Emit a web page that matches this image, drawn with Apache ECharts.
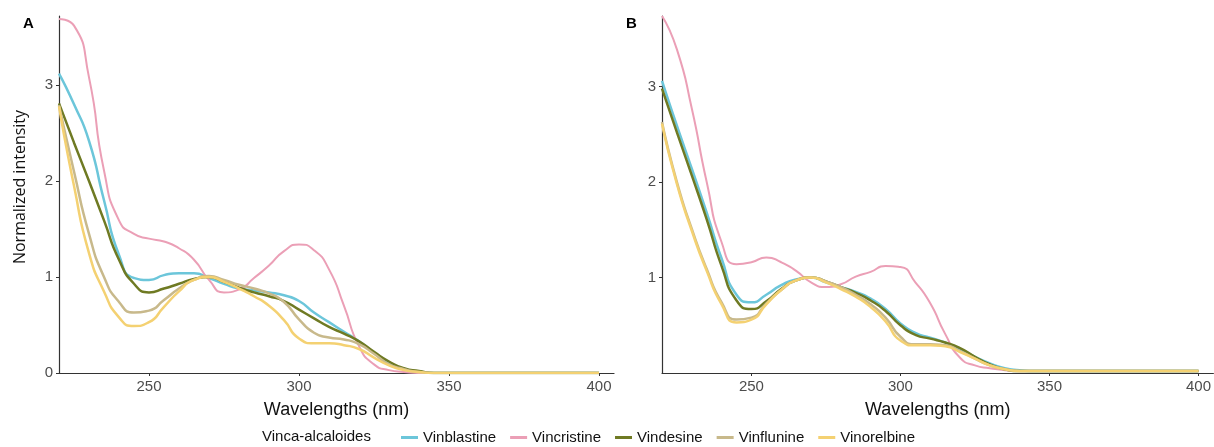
<!DOCTYPE html>
<html>
<head>
<meta charset="utf-8">
<script src="https://cdn.jsdelivr.net/npm/echarts@6/dist/echarts.min.js"></script>
<style>
  html, body { margin: 0; padding: 0; background: #fff; }
  #chart { width: 1214px; height: 447px; }
</style>
</head>
<body>
<div id="chart"></div>
<script>
// wavelength grid (nm) shared by every curve
const wavelengths = [220, 225, 230, 235, 240, 245, 250, 255, 260, 265, 270, 275, 280, 285, 290, 295, 300, 305, 310, 315, 320, 325, 330, 335, 340, 345, 350, 375, 400]

// panel A
const vinblastineA = [3.12, 2.80, 2.42, 1.80, 1.23, 0.99, 0.97, 1.02, 1.04, 1.04, 0.99, 0.93, 0.88, 0.86, 0.84, 0.81, 0.75, 0.63, 0.53, 0.43, 0.33, 0.21, 0.10, 0.04, 0.01, 0, 0, 0, 0]
const vincristineA = [3.69, 3.62, 3.08, 2.11, 1.59, 1.45, 1.40, 1.37, 1.30, 1.18, 0.97, 0.84, 0.87, 0.99, 1.12, 1.27, 1.34, 1.28, 1.08, 0.70, 0.28, 0.09, 0.03, 0.01, 0, 0, 0, 0, 0]
const vindesineA = [2.81, 2.40, 2.00, 1.59, 1.18, 0.93, 0.84, 0.88, 0.93, 0.98, 1.00, 0.95, 0.89, 0.84, 0.80, 0.75, 0.66, 0.57, 0.48, 0.41, 0.33, 0.22, 0.12, 0.05, 0.02, 0, 0, 0, 0]
const vinflunineA = [2.79, 2.10, 1.45, 1.00, 0.74, 0.63, 0.65, 0.76, 0.88, 0.97, 1.01, 0.97, 0.92, 0.88, 0.83, 0.74, 0.56, 0.42, 0.37, 0.35, 0.30, 0.20, 0.09, 0.04, 0.01, 0, 0, 0, 0]
const vinorelbineA = [2.78, 1.95, 1.25, 0.85, 0.58, 0.49, 0.53, 0.69, 0.85, 0.97, 1.00, 0.95, 0.88, 0.80, 0.70, 0.55, 0.36, 0.31, 0.31, 0.29, 0.25, 0.16, 0.08, 0.03, 0.01, 0, 0, 0, 0]

// panel B
const vinblastineB = [3.06, 2.59, 2.14, 1.68, 1.20, 0.82, 0.74, 0.82, 0.92, 0.98, 1.00, 0.95, 0.90, 0.85, 0.78, 0.67, 0.52, 0.42, 0.37, 0.32, 0.25, 0.17, 0.10, 0.05, 0.03, 0.02, 0.02, 0.02, 0.02]
const vincristineB = [3.74, 3.39, 2.77, 2.00, 1.37, 1.14, 1.16, 1.21, 1.16, 1.07, 0.95, 0.90, 0.93, 1.01, 1.06, 1.12, 1.11, 0.95, 0.73, 0.41, 0.16, 0.08, 0.05, 0.03, 0.02, 0.02, 0.02, 0.02, 0.02]
const vindesineB = [2.98, 2.52, 2.07, 1.61, 1.12, 0.76, 0.67, 0.75, 0.88, 0.97, 1.00, 0.96, 0.90, 0.84, 0.76, 0.65, 0.50, 0.40, 0.36, 0.32, 0.26, 0.17, 0.09, 0.04, 0.02, 0.02, 0.02, 0.02, 0.02]
const vinflunineB = [2.63, 2.00, 1.51, 1.09, 0.74, 0.56, 0.58, 0.73, 0.87, 0.97, 1.00, 0.96, 0.90, 0.82, 0.72, 0.58, 0.38, 0.30, 0.30, 0.29, 0.23, 0.15, 0.08, 0.04, 0.02, 0.02, 0.02, 0.02, 0.02]
const vinorelbineB = [2.61, 1.98, 1.49, 1.07, 0.72, 0.53, 0.56, 0.72, 0.87, 0.97, 1.00, 0.95, 0.88, 0.80, 0.69, 0.54, 0.34, 0.29, 0.29, 0.28, 0.22, 0.15, 0.08, 0.04, 0.02, 0.02, 0.02, 0.02, 0.02]

const names = ['Vinblastine', 'Vincristine', 'Vindesine', 'Vinflunine', 'Vinorelbine']
const colors = ['#6cc6da', '#eb9fb6', '#6f7a23', '#c8b98b', '#f4d172']
const widths = [2.5, 2, 2.5, 2.5, 2.5]
const xTicks = [250, 300, 350, 400]
const yTicksA = [0, 1, 2, 3]
const yTicksB = [1, 2, 3]

const panelA = [vinblastineA, vincristineA, vindesineA, vinflunineA, vinorelbineA]
const panelB = [vinblastineB, vincristineB, vindesineB, vinflunineB, vinorelbineB]

const font = '"Liberation Sans", Arial, sans-serif'
const axisColor = '#333'
const labelColor = '#4d4d4d'

function xAxis(gridIndex) {
  return {
    type: 'value', gridIndex: gridIndex, min: 220, max: 405,
    name: 'Wavelengths (nm)', nameLocation: 'middle', nameGap: 28,
    nameTextStyle: { fontFamily: font, fontSize: 18, color: '#111' },
    axisLine: { show: true, lineStyle: { color: axisColor, width: 1.2 } },
    axisTick: { show: true, length: 3, customValues: xTicks, lineStyle: { color: axisColor } },
    axisLabel: { customValues: xTicks, margin: 6, fontFamily: font, fontSize: 15, color: labelColor },
    splitLine: { show: false }
  }
}

function yAxis(gridIndex, max, ticks) {
  return {
    type: 'value', gridIndex: gridIndex, min: 0, max: max,
    axisLine: { show: true, lineStyle: { color: axisColor, width: 1.2 } },
    axisTick: { show: true, length: 3, customValues: ticks, lineStyle: { color: axisColor } },
    axisLabel: { customValues: ticks, margin: 6, fontFamily: font, fontSize: 15, color: labelColor },
    splitLine: { show: false }
  }
}

const series = []
;[panelA, panelB].forEach((panel, p) => {
  panel.forEach((values, i) => {
    series.push({
      name: names[i],
      type: 'line',
      xAxisIndex: p,
      yAxisIndex: p,
      smooth: 0.6,
      symbol: 'none',
      color: colors[i],
      lineStyle: { color: colors[i], width: widths[i] },
      data: wavelengths.map((w, k) => [w, values[k]])
    })
  })
})

const chart = echarts.init(document.getElementById('chart'))
chart.setOption({
  animation: false,
  backgroundColor: '#fff',
  grid: [
    { left: 59, top: 16, width: 555, height: 357 },
    { left: 662, top: 16, width: 555, height: 357 }
  ],
  xAxis: [xAxis(0), xAxis(1)],
  yAxis: [yAxis(0, 3.72, yTicksA), yAxis(1, 3.74, yTicksB)],
  graphic: [
    { type: 'text', left: 23, top: 16, style: { text: 'A', fontFamily: font, fontSize: 15, fontWeight: 'bold', fill: '#000' } },
    { type: 'text', left: 626, top: 16, style: { text: 'B', fontFamily: font, fontSize: 15, fontWeight: 'bold', fill: '#000' } },
    {
      type: 'text', x: 20, y: 187, rotation: Math.PI / 2,
      style: { text: 'Normalized intensity', fontFamily: '"Open Sans", sans-serif', fontSize: 16, fill: '#111', align: 'center', verticalAlign: 'middle' }
    },
    { type: 'text', left: 262, top: 429, style: { text: 'Vinca-alcaloides', fontFamily: font, fontSize: 15, fill: '#111' } }
  ],
  legend: {
    left: 396, top: 425,
    icon: 'rect', itemWidth: 17, itemHeight: 3, itemGap: 14,
    data: names,
    textStyle: { fontFamily: font, fontSize: 15, color: '#111' }
  },
  series: series
})
</script>
</body>
</html>
